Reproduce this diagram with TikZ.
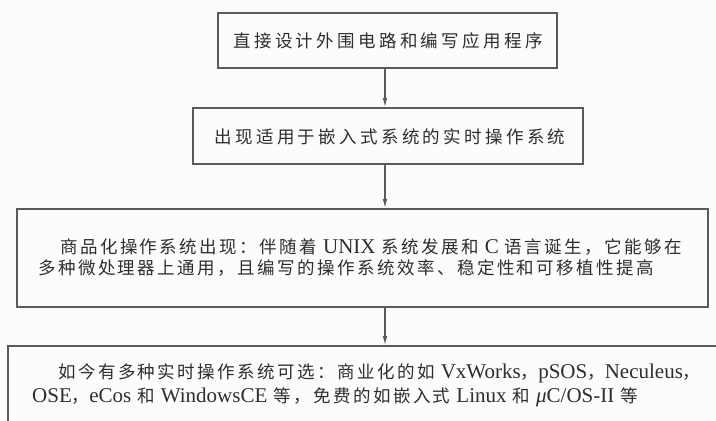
\documentclass[tikz,border=0pt]{standalone}
\usepackage{fontspec}
\setmainfont{Liberation Serif}
\newfontfamily\cjk[LetterSpace=14]{Noto Sans CJK SC}
\newfontfamily\cjkwide[LetterSpace=19]{Noto Sans CJK SC}
\usetikzlibrary{arrows.meta}
\definecolor{linec}{HTML}{5A5A5A}
\definecolor{textc}{HTML}{2E2E2E}
\definecolor{bgc}{HTML}{FCFCFA}
\newcommand\lat[1]{{\rmfamily\fontsize{21}{21}\selectfont #1}}
\newcommand\ls{\hspace{6pt}}
\tikzset{
  stagebox/.style={draw=linec, line width=1.6pt, minimum width=#1, inner sep=0pt},
  linetext/.style={anchor=west, inner sep=0pt, text=textc, font=\cjk\fontsize{17.5}{17.5}\selectfont},
  headtext/.style={anchor=center, inner sep=0pt, text=textc, font=\cjkwide\fontsize{17.5}{17.5}\selectfont},
  arr/.style={draw=linec, line width=1.2pt, -{Latex[length=9pt,width=4.5pt]}}
}
\begin{document}
\begin{tikzpicture}[x=1pt,y=-1pt]
\useasboundingbox (0,0) rectangle (716,421);
\clip (0,0) rectangle (716,421);
\fill[bgc] (0,0) rectangle (716,421);
% boxes
\node[stagebox=339pt, minimum height=55pt] (b1) at (387.5,40.5) {};
\node[stagebox=390pt, minimum height=56pt] (b2) at (388,136) {};
\node[stagebox=691pt, minimum height=98pt] (b3) at (362.5,258) {};
\node[stagebox=715pt, minimum height=100pt] (b4) at (365.5,396) {};
% texts
\node[headtext] (t1) at (388,41) {直接设计外围电路和编写应用程序};
\node[headtext] (t2) at (390,137) {出现适用于嵌入式系统的实时操作系统};
\node[linetext] (t3a) at (60,247) {商品化操作系统出现：伴随着\lat{\ls UNIX\ls}系统发展和\lat{\ls C\ls}语言诞生，它能够在};
\node[linetext] (t3b) at (38,268) {多种微处理器上通用，且编写的操作系统效率、稳定性和可移植性提高};
\node[linetext] (t4a) at (58,373) {如今有多种实时操作系统可选：商业化的如\lat{\ls VxWorks}，\lat{pSOS}，\lat{Neculeus}，};
\node[linetext] (t4b) at (32,397) {\lat{OSE}，\lat{eCos\ls}和\lat{\ls WindowsCE\ls}等，免费的如嵌入式\lat{\ls Linux\ls}和\lat{\ls\textit{μ}C/OS-II\ls}等};
% connectors
\coordinate (ax) at (385,0);
\draw[arr] (b1.south -| ax) -- (b2.north -| ax);
\draw[arr] (b2.south -| ax) -- (b3.north -| ax);
\draw[arr] (b3.south -| ax) -- (b4.north -| ax);
\end{tikzpicture}
\end{document}
